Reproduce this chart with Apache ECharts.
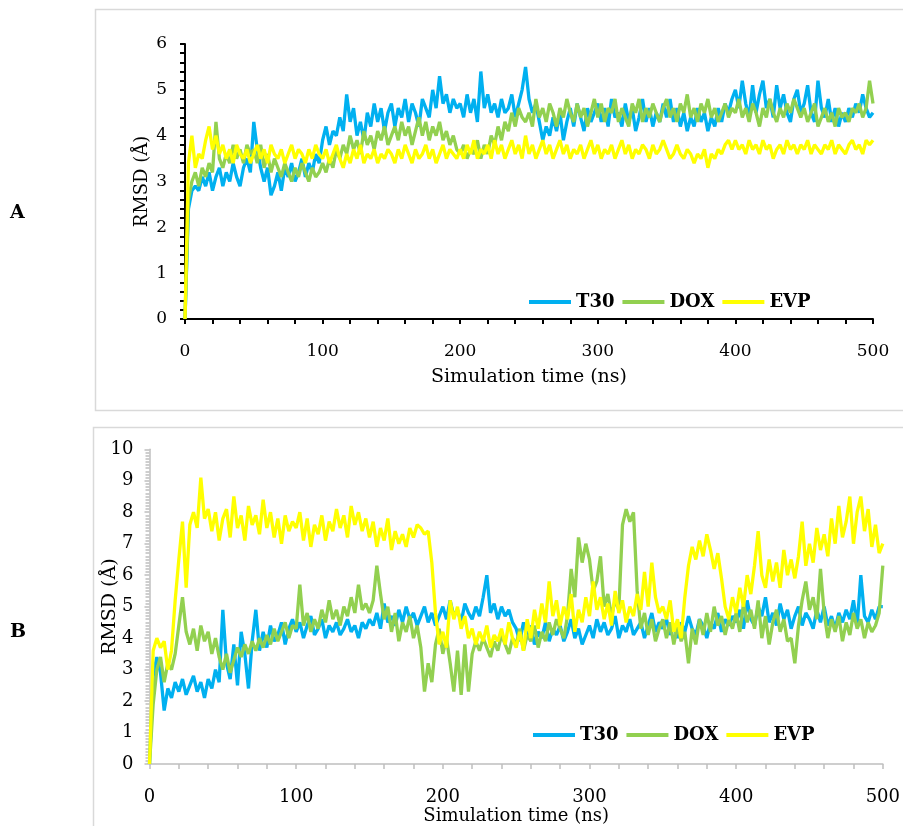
<!DOCTYPE html>
<html>
<head>
<meta charset="utf-8">
<script src="https://cdn.jsdelivr.net/npm/echarts@6/dist/echarts.min.js"></script>
<style>
html,body{margin:0;padding:0;background:#fff;}
#chart{width:903px;height:826px;}
</style>
</head>
<body>
<div id="chart"></div>
<script>
const seriesNames = ['T30', 'DOX', 'EVP'];
const seriesColors = ['#00B0F0', '#92D050', '#FFFF00'];
const xTicks = [0, 100, 200, 300, 400, 500];

const timeNs = [
0,2.5,5,7.5,10,12.5,15,17.5,20,22.5,25,27.5,30,32.5,35,37.5,40,42.5,45,47.5,
50,52.5,55,57.5,60,62.5,65,67.5,70,72.5,75,77.5,80,82.5,85,87.5,90,92.5,95,97.5,
100,102.5,105,107.5,110,112.5,115,117.5,120,122.5,125,127.5,130,132.5,135,137.5,140,142.5,145,147.5,
150,152.5,155,157.5,160,162.5,165,167.5,170,172.5,175,177.5,180,182.5,185,187.5,190,192.5,195,197.5,
200,202.5,205,207.5,210,212.5,215,217.5,220,222.5,225,227.5,230,232.5,235,237.5,240,242.5,245,247.5,
250,252.5,255,257.5,260,262.5,265,267.5,270,272.5,275,277.5,280,282.5,285,287.5,290,292.5,295,297.5,
300,302.5,305,307.5,310,312.5,315,317.5,320,322.5,325,327.5,330,332.5,335,337.5,340,342.5,345,347.5,
350,352.5,355,357.5,360,362.5,365,367.5,370,372.5,375,377.5,380,382.5,385,387.5,390,392.5,395,397.5,
400,402.5,405,407.5,410,412.5,415,417.5,420,422.5,425,427.5,430,432.5,435,437.5,440,442.5,445,447.5,
450,452.5,455,457.5,460,462.5,465,467.5,470,472.5,475,477.5,480,482.5,485,487.5,490,492.5,495,497.5,
500];

// Panel A
const t30A = [
0,2.4,2.8,2.9,2.8,3.1,2.9,3.2,2.8,3.1,3.3,2.9,3.2,3.0,3.4,3.1,2.9,3.3,3.5,3.2,
4.3,3.7,3.3,3.0,3.3,2.7,2.9,3.2,2.8,3.3,3.1,3.4,3.0,3.2,3.5,3.1,3.4,3.2,3.6,3.4,
3.9,4.2,3.8,4.1,4.0,4.4,4.1,4.9,4.3,4.6,4.0,4.3,3.9,4.5,4.2,4.7,4.3,4.6,4.1,4.5,
4.7,4.2,4.6,4.4,4.8,4.3,4.7,4.5,4.2,4.8,4.6,4.4,5.0,4.6,5.3,4.7,4.9,4.5,4.8,4.6,
4.7,4.4,4.9,4.5,4.8,4.3,5.4,4.6,4.9,4.5,4.7,4.4,4.8,4.5,4.6,4.9,4.4,4.7,5.0,5.5,
4.8,4.5,4.7,4.3,3.9,4.2,4.0,4.4,4.1,4.5,3.9,4.3,4.6,4.2,4.7,4.4,4.1,4.6,4.3,4.5,
4.7,4.3,4.6,4.2,4.8,4.4,4.5,4.2,4.7,4.3,4.6,4.1,4.4,4.8,4.3,4.6,4.2,4.5,4.3,4.7,
4.4,4.8,4.3,4.6,4.2,4.5,4.1,4.4,4.2,4.6,4.3,4.5,4.1,4.4,4.2,4.6,4.3,4.7,4.5,4.8,
5.0,4.6,5.2,4.7,4.4,5.1,4.5,4.9,5.2,4.6,4.8,4.4,5.1,4.6,4.9,4.5,4.3,4.8,5.0,4.5,
4.7,5.1,4.5,4.3,5.2,4.6,4.4,4.8,4.3,4.6,4.2,4.5,4.3,4.6,4.4,4.7,4.5,4.9,4.6,4.4,
4.5];
const doxA = [
0,2.6,3.0,3.2,2.9,3.3,3.1,3.4,3.2,4.3,3.5,3.3,3.6,3.4,3.8,3.5,3.7,3.4,3.8,3.6,
3.7,3.4,3.8,3.3,3.6,3.2,3.5,3.3,3.1,3.4,3.2,3.0,3.3,3.1,3.4,3.2,3.0,3.3,3.1,3.2,
3.4,3.2,3.5,3.3,3.7,3.5,3.8,3.6,4.0,3.7,3.9,3.6,4.1,3.8,4.0,3.7,4.1,3.9,4.2,3.8,
4.0,4.2,3.9,4.3,4.0,4.2,3.8,4.1,4.4,4.0,4.3,3.9,4.2,4.0,4.3,3.9,4.1,3.8,4.0,3.7,
3.6,3.8,3.5,3.7,3.6,3.9,3.5,3.8,3.6,4.0,3.8,4.2,3.9,4.3,4.1,4.5,4.2,4.6,4.4,4.3,
4.5,4.2,4.8,4.4,4.6,4.3,4.7,4.5,4.2,4.6,4.4,4.8,4.5,4.3,4.7,4.4,4.6,4.2,4.5,4.8,
4.4,4.7,4.3,4.6,4.5,4.8,4.3,4.6,4.4,4.2,4.7,4.5,4.8,4.3,4.6,4.4,4.7,4.5,4.3,4.6,
4.8,4.4,4.6,4.3,4.7,4.5,4.9,4.4,4.6,4.3,4.7,4.5,4.8,4.4,4.6,4.3,4.5,4.7,4.4,4.6,
4.5,4.8,4.4,4.6,4.3,4.7,4.5,4.2,4.6,4.4,4.8,4.5,4.3,4.6,4.4,4.7,4.5,4.8,4.6,4.4,
4.6,4.3,4.5,4.7,4.2,4.4,4.6,4.3,4.5,4.2,4.6,4.4,4.5,4.3,4.6,4.5,4.7,4.4,4.6,5.2,
4.7];
const evpA = [
0,3.4,4.0,3.3,3.6,3.5,3.9,4.2,3.7,4.0,3.6,3.8,3.5,3.7,3.4,3.8,3.6,3.5,3.7,3.4,
3.6,3.8,3.5,3.7,3.4,3.8,3.6,3.5,3.7,3.4,3.6,3.8,3.5,3.7,3.6,3.4,3.7,3.5,3.8,3.6,
3.5,3.7,3.4,3.6,3.8,3.5,3.3,3.6,3.4,3.7,3.5,3.8,3.4,3.6,3.5,3.7,3.4,3.6,3.5,3.7,
3.6,3.4,3.7,3.5,3.8,3.6,3.4,3.7,3.5,3.6,3.8,3.5,3.7,3.4,3.6,3.8,3.5,3.7,3.6,3.5,
3.7,3.5,3.8,3.6,3.9,3.5,3.7,3.6,3.8,3.5,3.9,3.6,3.8,3.5,3.7,3.9,3.6,3.8,3.5,4.0,
3.6,3.8,3.5,3.7,3.9,3.6,3.8,3.5,3.7,3.9,3.6,3.8,3.5,3.7,3.6,3.8,3.5,3.7,3.9,3.6,
3.8,3.5,3.7,3.6,3.8,3.5,3.7,3.9,3.6,3.8,3.5,3.7,3.6,3.8,3.7,3.5,3.8,3.6,3.7,3.9,
3.7,3.5,3.6,3.8,3.6,3.5,3.7,3.6,3.4,3.6,3.5,3.7,3.3,3.6,3.5,3.7,3.6,3.8,3.9,3.7,
3.9,3.7,3.8,3.6,3.9,3.7,3.8,3.6,3.9,3.7,3.8,3.5,3.7,3.8,3.6,3.9,3.7,3.8,3.6,3.8,
3.7,3.9,3.6,3.8,3.7,3.6,3.8,3.7,3.9,3.6,3.8,3.7,3.6,3.8,3.9,3.7,3.8,3.6,3.9,3.8,
3.9];

// Panel B
const t30B = [
0,2.8,3.4,2.9,1.7,2.4,2.1,2.6,2.3,2.7,2.2,2.5,2.8,2.3,2.6,2.1,2.7,2.4,3.0,2.6,
4.9,3.2,2.7,3.8,2.5,4.2,3.5,2.4,3.9,4.9,3.6,4.2,3.7,4.4,3.9,4.1,4.5,3.8,4.3,4.6,
4.2,4.5,4.0,4.4,4.7,4.1,4.3,4.6,4.0,4.4,4.2,4.5,4.1,4.3,4.6,4.2,4.4,4.0,4.5,4.3,
4.6,4.4,4.8,4.3,5.1,4.5,4.7,4.4,4.9,4.5,5.0,4.6,4.8,4.4,4.7,5.0,4.5,4.8,4.4,4.7,
5.0,4.6,5.2,4.7,4.9,4.5,5.1,4.8,4.6,5.0,4.7,5.3,6.0,4.8,5.1,4.6,5.0,4.7,4.9,4.5,
4.3,3.9,4.5,4.1,4.4,3.8,4.2,4.0,4.5,3.9,4.3,4.1,4.4,3.9,4.2,4.6,4.0,4.3,3.8,4.1,
4.4,4.0,4.6,4.2,4.5,4.1,4.3,4.7,4.0,4.4,4.2,4.6,4.1,4.3,4.5,4.0,4.4,4.8,4.2,4.5,
4.3,4.6,4.1,4.4,4.0,4.5,4.2,4.7,4.3,4.1,4.6,4.4,4.0,4.5,4.3,4.8,4.2,4.6,4.4,4.7,
4.5,4.9,4.3,5.2,4.6,4.4,5.0,4.7,5.3,4.5,4.8,4.4,5.1,4.6,4.9,4.3,4.7,5.0,4.4,4.8,
4.6,4.3,4.9,4.5,5.0,4.4,4.7,4.3,4.8,4.5,4.9,4.6,5.2,4.4,6.0,4.7,4.5,4.9,4.6,5.0,
5.0];
const doxB = [
0,1.9,3.0,3.4,2.6,3.2,3.0,3.5,4.4,5.3,4.2,3.8,4.3,3.6,4.4,3.9,4.2,3.5,4.0,3.4,
3.0,3.5,2.9,3.3,3.7,3.4,3.8,3.5,3.9,3.6,4.0,3.7,4.1,3.8,4.3,3.9,4.2,4.5,4.0,4.4,
4.3,5.7,4.4,4.8,4.2,4.6,4.3,4.9,4.5,5.2,4.6,4.9,4.4,5.0,4.7,5.3,4.8,5.7,4.9,5.1,
4.8,5.2,6.3,5.4,4.6,5.0,4.2,4.8,3.9,4.5,4.2,4.7,4.0,4.4,3.7,2.3,3.2,2.6,3.8,4.3,
3.5,4.0,3.2,2.3,3.6,2.2,3.8,2.3,3.5,3.9,3.6,4.0,3.7,3.4,3.9,3.6,4.1,3.8,3.5,4.0,
3.8,4.3,3.6,4.1,3.9,4.4,3.7,4.2,3.9,4.5,4.1,4.6,4.3,4.0,4.7,6.2,5.3,7.2,6.4,7.0,
6.5,5.5,5.8,6.6,5.0,5.4,4.7,5.2,4.9,7.6,8.1,7.7,8.0,5.5,4.3,4.8,4.1,4.6,3.9,4.3,
4.6,4.0,4.5,3.8,4.4,3.9,4.2,3.2,4.3,3.8,4.6,4.1,4.8,4.2,5.0,4.4,4.7,4.1,4.6,4.3,
4.8,4.2,5.1,4.5,4.9,4.3,5.2,4.0,4.7,3.8,4.5,4.9,4.2,4.6,3.9,4.0,3.2,4.4,5.2,5.8,
4.9,5.3,4.6,6.2,4.8,4.0,4.6,4.2,4.7,3.9,4.5,4.1,4.8,4.3,4.6,4.0,4.5,4.2,4.4,4.8,
6.3];
const evpB = [
0,3.6,4.0,3.7,3.9,3.0,3.6,5.2,6.5,7.7,5.6,7.6,8.0,7.5,9.1,7.8,8.1,7.4,8.0,7.1,
7.8,8.1,7.2,8.5,7.5,7.9,7.1,8.2,7.6,7.9,7.3,8.4,7.5,8.0,7.2,7.8,7.0,7.9,7.4,7.7,
7.5,8.0,7.1,7.8,6.9,7.6,7.3,7.9,7.1,7.7,7.4,8.1,7.5,7.9,7.2,8.2,7.6,8.0,7.4,7.8,
7.2,7.7,6.9,7.5,7.1,7.8,6.8,7.4,7.0,7.3,6.9,7.5,7.2,7.6,7.5,7.3,7.4,6.4,4.8,3.8,
4.2,3.7,5.2,4.6,5.0,4.3,4.7,4.0,4.3,3.8,4.2,3.9,4.4,3.7,4.1,3.9,4.3,3.8,4.5,4.0,
3.7,4.2,3.6,4.6,4.0,4.9,4.3,5.1,4.5,5.8,4.7,5.2,4.4,5.0,4.6,5.4,4.2,4.9,4.5,5.3,
4.7,5.8,4.9,5.3,4.6,5.1,4.4,5.5,4.8,5.2,4.5,5.0,4.7,5.4,4.9,6.1,5.0,6.4,5.3,4.8,
5.0,4.6,5.2,4.2,4.6,4.0,5.3,6.3,6.9,6.5,7.1,6.6,7.3,6.8,6.2,6.7,5.9,5.0,4.6,5.3,
4.8,5.6,5.0,6.0,5.4,6.3,7.4,6.0,5.6,6.5,5.8,6.4,5.6,6.8,6.0,6.5,5.9,6.6,7.7,6.3,
7.0,6.4,7.5,6.8,7.3,6.6,7.8,7.0,8.2,7.2,7.7,8.5,7.0,8.0,8.5,7.4,8.1,6.9,7.6,6.7,
7.0];

const xTitle = 'Simulation time (ns)';
const yTitle = 'RMSD (Å)';
const FONT = '"DejaVu Serif", serif';

function pairs(vals) { return timeNs.map((t, i) => [t, vals[i]]); }

const chart = echarts.init(document.getElementById('chart'), null, { renderer: 'canvas' });

function xAxisCfg(gridIndex, col, lw, fs, nfs, gap, margin) {
  return {
    type: 'value', gridIndex, min: xTicks[0], max: xTicks[xTicks.length - 1], interval: 100,
    name: xTitle, nameLocation: 'middle', nameGap: gap, nameMoveOverlap: false,
    nameTextStyle: { fontFamily: FONT, fontSize: nfs, color: '#000' },
    axisLine: { show: true, onZero: false, lineStyle: { color: col, width: lw } },
    axisTick: { show: true, length: 5, lineStyle: { color: col, width: lw } },
    minorTick: { show: true, splitNumber: 5, length: 5, lineStyle: { color: col, width: lw } },
    splitLine: { show: false },
    axisLabel: { fontFamily: FONT, fontSize: fs, color: '#000', margin: margin }
  };
}
function yAxisCfg(gridIndex, max, col, lw, fs, gap, margin, nfs, minorSplit, minorLen) {
  return {
    type: 'value', gridIndex, min: 0, max: max, interval: 1,
    name: yTitle, nameLocation: 'middle', nameGap: gap, nameMoveOverlap: false,
    nameTextStyle: { fontFamily: FONT, fontSize: nfs, color: '#000' },
    axisLine: { show: true, lineStyle: { color: col, width: lw } },
    axisTick: { show: true, length: 5, lineStyle: { color: col, width: lw } },
    minorTick: { show: true, splitNumber: minorSplit, length: minorLen, lineStyle: { color: col, width: lw } },
    splitLine: { show: false },
    axisLabel: { fontFamily: FONT, fontSize: fs, color: '#000', margin: margin }
  };
}

const dataA = [t30A, doxA, evpA];
const dataB = [t30B, doxB, evpB];
const series = [];
dataA.forEach((d, i) => series.push({
  name: seriesNames[i], type: 'line', xAxisIndex: 0, yAxisIndex: 0, data: pairs(d),
  showSymbol: false, symbol: 'none', lineStyle: { color: seriesColors[i], width: 3.3 },
  itemStyle: { color: seriesColors[i] }, z: 2 + i
}));
dataB.forEach((d, i) => series.push({
  name: seriesNames[i], type: 'line', xAxisIndex: 1, yAxisIndex: 1, data: pairs(d),
  showSymbol: false, symbol: 'none', lineStyle: { color: seriesColors[i], width: 3.3 },
  itemStyle: { color: seriesColors[i] }, z: 2 + i
}));

const legendBase = {
  data: seriesNames.map(n => ({ name: n, icon: 'rect' })),
  itemWidth: 42, itemHeight: 4, itemGap: 8, selectedMode: false,
  textStyle: { fontFamily: FONT, fontSize: 18, fontWeight: 'bold', color: '#000' }
};

chart.setOption({
  animation: false,
  backgroundColor: '#ffffff',
  grid: [
    { left: 185, top: 44, width: 688, height: 275 },
    { left: 149.5, top: 449.3, width: 739, height: 314.7 }
  ],
  xAxis: [
    xAxisCfg(0, '#000', 2, 17, 19, 49, 24),
    xAxisCfg(1, '#bfbfbf', 1.5, 18, 18, 43, 24)
  ],
  yAxis: [
    yAxisCfg(0, 6, '#000', 2, 17, 34, 18, 18, 5, 5),
    yAxisCfg(1, 10, '#bfbfbf', 1.5, 18, 30, 16, 19, 10, 4)
  ],
  legend: [
    Object.assign({ left: 524, top: 288 }, legendBase),
    Object.assign({ left: 528, top: 721 }, legendBase)
  ],
  series: series,
  graphic: [
    { type: 'rect', shape: { x: 95.5, y: 9.5, width: 820, height: 401 }, style: { fill: 'none', stroke: '#d9d9d9', lineWidth: 1.5 }, z: -1 },
    { type: 'rect', shape: { x: 93.5, y: 427.5, width: 820, height: 420 }, style: { fill: 'none', stroke: '#d9d9d9', lineWidth: 1.5 }, z: -1 },
    { type: 'text', left: 10, top: 204, style: { text: 'A', font: 'bold 19px "DejaVu Serif", serif', fill: '#000' } },
    { type: 'text', left: 10, top: 623, style: { text: 'B', font: 'bold 19px "DejaVu Serif", serif', fill: '#000' } }
  ]
});
</script>
</body>
</html>
